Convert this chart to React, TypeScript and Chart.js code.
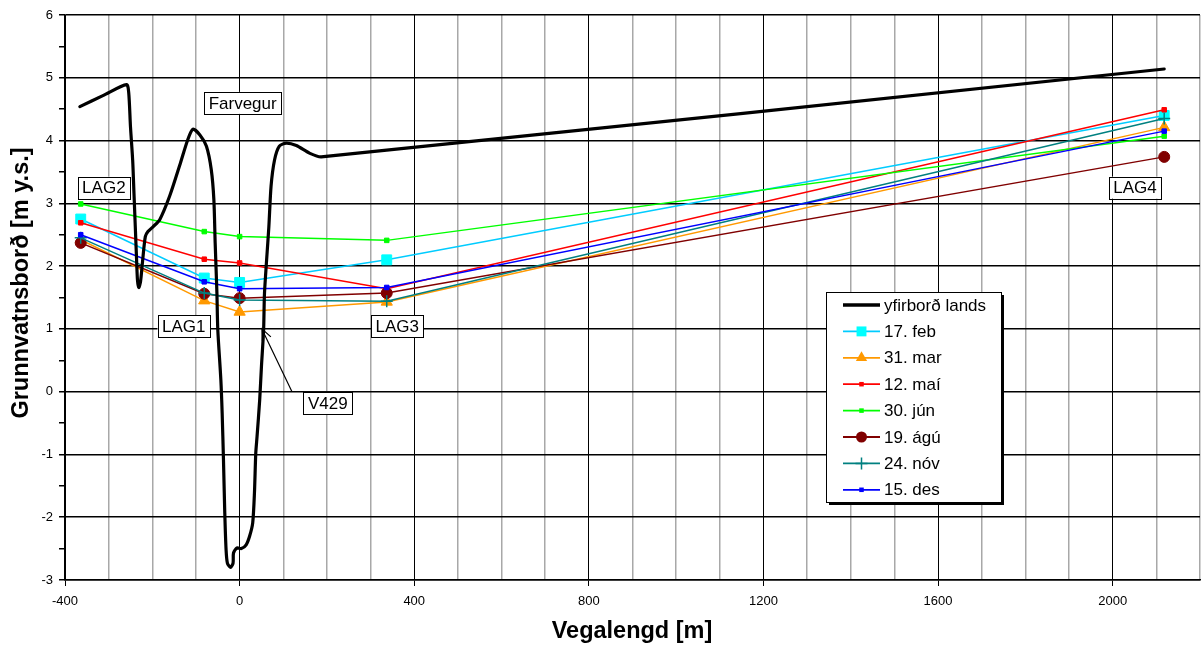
import React, { useEffect, useRef } from 'react';
import { Chart, registerables } from 'chart.js';

Chart.register(...registerables);

// ---------- data ----------
const stationX = [-364, -81, 0, 337, 2118];
const feb = [2.75, 1.81, 1.74, 2.10, 4.40];
const mar = [2.42, 1.45, 1.27, 1.43, 4.21];
const mai = [2.69, 2.11, 2.05, 1.64, 4.49];
const jun = [2.99, 2.55, 2.47, 2.41, 4.07];
const agu = [2.37, 1.56, 1.49, 1.57, 3.74];
const nov = [2.45, 1.57, 1.46, 1.44, 4.35];
const des = [2.50, 1.75, 1.64, 1.66, 4.15];

const groundX = [-366, -312, -259, -254, -250, -245, -242, -239, -236, -234, -231, -227, -222, -216, -210, -198, -183, -160, -137, -119, -107, -91, -76, -65, -59, -56, -52, -50, -43, -40, -37, -34, -31, -28, -21, -15, -14, -6, 4, 15, 23, 30, 34, 37, 40, 46, 50, 55, 57, 67, 72, 80, 91, 107, 130, 160, 187, 2118];
const groundY = [4.54, 4.72, 4.89, 4.76, 4.22, 3.69, 3.16, 2.63, 2.10, 1.78, 1.66, 1.75, 2.10, 2.47, 2.55, 2.63, 2.74, 3.12, 3.61, 4.01, 4.18, 4.09, 3.91, 3.54, 3.06, 2.37, 1.57, 0.99, 0.19, -0.34, -1.08, -1.93, -2.52, -2.73, -2.80, -2.73, -2.57, -2.49, -2.50, -2.44, -2.30, -2.09, -1.61, -0.98, -0.71, -0.13, 0.40, 0.99, 1.57, 2.63, 3.27, 3.69, 3.91, 3.96, 3.92, 3.80, 3.74, 5.14];

const seriesLabels = ['yfirborð lands', '17. feb', '31. mar', '12. maí', '30. jún', '19. ágú', '24. nóv', '15. des'];
const xTickStep = 100;
const xLabelStep = 400;
const yTickStep = 0.5;

const annotationTexts = ['LAG2', 'Farvegur', 'LAG1', 'LAG3', 'V429', 'LAG4'];

// ---------- styles / layout ----------
const FONT = '"Liberation Sans", Arial, sans-serif';
const VIEW_W = 1202;
const CANVAS_W = 1208;
const CANVAS_H = 648;
const annotationPos = [
  { x: -311, y: 3.25 },
  { x: 7, y: 4.6 },
  { x: -128, y: 1.04 },
  { x: 361, y: 1.04 },
  { x: 202, y: -0.18 },
  { x: 2051, y: 3.25 },
];
const arrowFrom = { x: 120, y: 0.0 };
const arrowTo = { x: 51, y: 1.0 };

type Sty = { line: string; fill: string; marker: string; r: number; bw: number };
const styles: Sty[] = [
  { line: '#000000', fill: '#000000', marker: 'none', r: 0, bw: 3 },
  { line: '#00CCFF', fill: '#00FFFF', marker: 'rect', r: 7, bw: 1.5 },
  { line: '#FF9900', fill: '#FF9900', marker: 'triangle', r: 6.5, bw: 1.5 },
  { line: '#FF0000', fill: '#FF0000', marker: 'rect', r: 3.2, bw: 1.5 },
  { line: '#00FF00', fill: '#00FF00', marker: 'rect', r: 3.2, bw: 1.5 },
  { line: '#800000', fill: '#800000', marker: 'circle', r: 5.5, bw: 1.5 },
  { line: '#008080', fill: '#008080', marker: 'cross', r: 6, bw: 1.5 },
  { line: '#0000FF', fill: '#0000FF', marker: 'rect', r: 3.2, bw: 1.5 },
];

const seriesValues = [feb, mar, mai, jun, agu, nov, des];

function drawMarker(ctx: CanvasRenderingContext2D, s: Sty, x: number, y: number) {
  ctx.save();
  ctx.fillStyle = s.fill;
  ctx.strokeStyle = s.fill;
  ctx.lineWidth = 1;
  if (s.marker === 'rect') {
    const h = s.r * Math.SQRT1_2;
    ctx.fillRect(x - h, y - h, 2 * h, 2 * h);
  } else if (s.marker === 'triangle') {
    const r = s.r;
    ctx.beginPath();
    ctx.moveTo(x, y - r);
    ctx.lineTo(x + r * 0.866, y + r * 0.5);
    ctx.lineTo(x - r * 0.866, y + r * 0.5);
    ctx.closePath();
    ctx.fill();
  } else if (s.marker === 'circle') {
    ctx.beginPath();
    ctx.arc(x, y, s.r, 0, Math.PI * 2);
    ctx.fill();
  } else if (s.marker === 'cross') {
    ctx.lineWidth = 1.5;
    ctx.beginPath();
    ctx.moveTo(x - s.r, y);
    ctx.lineTo(x + s.r, y);
    ctx.moveTo(x, y - s.r);
    ctx.lineTo(x, y + s.r);
    ctx.stroke();
  }
  ctx.restore();
}

const overlayPlugin = {
  id: 'overlay',
  afterDraw(chart: any) {
    const ctx: CanvasRenderingContext2D = chart.ctx;
    const xs = chart.scales.x;
    const ys = chart.scales.y;
    ctx.save();

    // annotation boxes
    ctx.font = `17px ${FONT}`;
    ctx.textBaseline = 'middle';
    ctx.textAlign = 'center';
    annotationTexts.forEach((t, i) => {
      const cx = xs.getPixelForValue(annotationPos[i].x);
      const cy = ys.getPixelForValue(annotationPos[i].y);
      const w = ctx.measureText(t).width + 9;
      const h = 22;
      ctx.fillStyle = '#fff';
      ctx.fillRect(cx - w / 2, cy - h / 2, w, h);
      ctx.strokeStyle = '#000';
      ctx.lineWidth = 1;
      ctx.strokeRect(Math.round(cx - w / 2) + 0.5, Math.round(cy - h / 2) + 0.5, Math.round(w), h);
      ctx.fillStyle = '#000';
      ctx.fillText(t, cx, cy + 1);
    });

    // arrow
    const ax0 = xs.getPixelForValue(arrowFrom.x);
    const ay0 = ys.getPixelForValue(arrowFrom.y);
    const ax1 = xs.getPixelForValue(arrowTo.x);
    const ay1 = ys.getPixelForValue(arrowTo.y);
    ctx.strokeStyle = '#000';
    ctx.lineWidth = 1.2;
    ctx.beginPath();
    ctx.moveTo(ax0, ay0);
    ctx.lineTo(ax1, ay1);
    const ang = Math.atan2(ay0 - ay1, ax0 - ax1);
    const L = 12;
    ctx.moveTo(ax1 + L * Math.cos(ang + 0.4), ay1 + L * Math.sin(ang + 0.4));
    ctx.lineTo(ax1, ay1);
    ctx.lineTo(ax1 + L * Math.cos(ang - 0.4), ay1 + L * Math.sin(ang - 0.4));
    ctx.stroke();

    // legend
    const lx = 826, ly = 292, lw = 175, lh = 210;
    ctx.fillStyle = '#000';
    ctx.fillRect(lx + 3, ly + 3, lw, lh);
    ctx.fillStyle = '#fff';
    ctx.fillRect(lx, ly, lw, lh);
    ctx.strokeStyle = '#000';
    ctx.lineWidth = 1;
    ctx.strokeRect(lx + 0.5, ly + 0.5, lw, lh);
    ctx.font = `17px ${FONT}`;
    ctx.textAlign = 'left';
    ctx.textBaseline = 'middle';
    seriesLabels.forEach((lab, i) => {
      const y = 305 + i * 26.4;
      const s = styles[i];
      ctx.strokeStyle = s.line;
      ctx.lineWidth = i === 0 ? 3.5 : 1.8;
      ctx.beginPath();
      ctx.moveTo(843, y);
      ctx.lineTo(880, y);
      ctx.stroke();
      drawMarker(ctx, s, 861.5, y);
      ctx.fillStyle = '#000';
      ctx.fillText(lab, 884, y + 1);
    });

    // axis titles
    ctx.fillStyle = '#000';
    ctx.font = `bold 23.5px ${FONT}`;
    ctx.textAlign = 'center';
    ctx.textBaseline = 'middle';
    ctx.fillText('Vegalengd [m]', 632, 632);
    ctx.save();
    ctx.translate(22, 283);
    ctx.rotate(-Math.PI / 2);
    ctx.fillText('Grunnvatnsborð [m y.s.]', 0, 0);
    ctx.restore();

    ctx.restore();
  },
};

export default function App() {
  const ref = useRef<HTMLCanvasElement>(null);
  useEffect(() => {
    document.body.style.margin = '0';
    const datasets: any[] = [];
    datasets.push({
      label: seriesLabels[0],
      data: groundX.map((x, i) => ({ x, y: groundY[i] })),
      borderColor: styles[0].line,
      borderWidth: 3.2,
      pointRadius: 0,
      tension: 0.25,
      showLine: true,
      order: 0,
      borderCapStyle: 'round',
      borderJoinStyle: 'round',
    });
    seriesValues.forEach((vals, k) => {
      const s = styles[k + 1];
      datasets.push({
        label: seriesLabels[k + 1],
        data: stationX.map((x, i) => ({ x, y: vals[i] })),
        borderColor: s.line,
        backgroundColor: s.fill,
        borderWidth: s.bw,
        pointStyle: s.marker,
        pointRadius: s.r,
        pointBackgroundColor: s.fill,
        pointBorderColor: s.fill,
        pointBorderWidth: s.marker === 'cross' ? 1.5 : 1,
        showLine: true,
        tension: 0,
        order: 8 - k,
      });
    });

    const chart = new Chart(ref.current!, {
      type: 'scatter',
      data: { datasets },
      plugins: [overlayPlugin],
      options: {
        animation: false,
        responsive: false,
        devicePixelRatio: 1,
        layout: { padding: { top: 15, right: 0, left: 0, bottom: 0 } },
        plugins: { legend: { display: false }, tooltip: { enabled: false } },
        scales: {
          x: {
            type: 'linear',
            min: -400,
            max: 2200,
            afterFit: (s: any) => { s.height = 68; s.paddingLeft = 0; s.paddingRight = 0; },
            ticks: {
              stepSize: xTickStep,
              autoSkip: false,
              maxRotation: 0,
              color: '#000',
              font: { size: 13, family: FONT },
              padding: 8,
              callback: (v: any) => (Number(v) % xLabelStep === 0 ? String(v) : ''),
            },
            grid: {
              color: (c: any) => (c.tick && c.tick.value % xLabelStep === 0 ? '#000000' : '#A8A8A8'),
              lineWidth: (c: any) => (c.tick && c.tick.value % xLabelStep === 0 ? 1 : 1.5),
              tickColor: (c: any) => (c.tick && c.tick.value % xLabelStep === 0 ? '#000000' : 'rgba(0,0,0,0)'),
              tickLength: 6,
            },
            border: { display: true, color: '#000', width: 1.5 },
          },
          y: {
            type: 'linear',
            min: -3,
            max: 6,
            afterFit: (s: any) => { s.width = 65; s.paddingTop = 0; s.paddingBottom = 0; },
            ticks: {
              stepSize: yTickStep,
              autoSkip: false,
              color: '#000',
              font: { size: 13, family: FONT },
              padding: 6,
              callback: (v: any) => (Number.isInteger(Number(v)) ? String(v) : ''),
            },
            grid: {
              color: (c: any) => (c.tick && Number.isInteger(c.tick.value) ? '#000000' : 'rgba(0,0,0,0)'),
              lineWidth: 1.5,
              tickColor: '#000000',
              tickLength: 6,
            },
            border: { display: true, color: '#000', width: 1.5 },
          },
        },
      } as any,
    });
    return () => chart.destroy();
  }, []);
  return (
    <div style={{ width: VIEW_W, height: CANVAS_H, overflow: 'hidden' }}>
      <canvas ref={ref} width={CANVAS_W} height={CANVAS_H} style={{ display: 'block', width: CANVAS_W, height: CANVAS_H }} />
    </div>
  );
}
